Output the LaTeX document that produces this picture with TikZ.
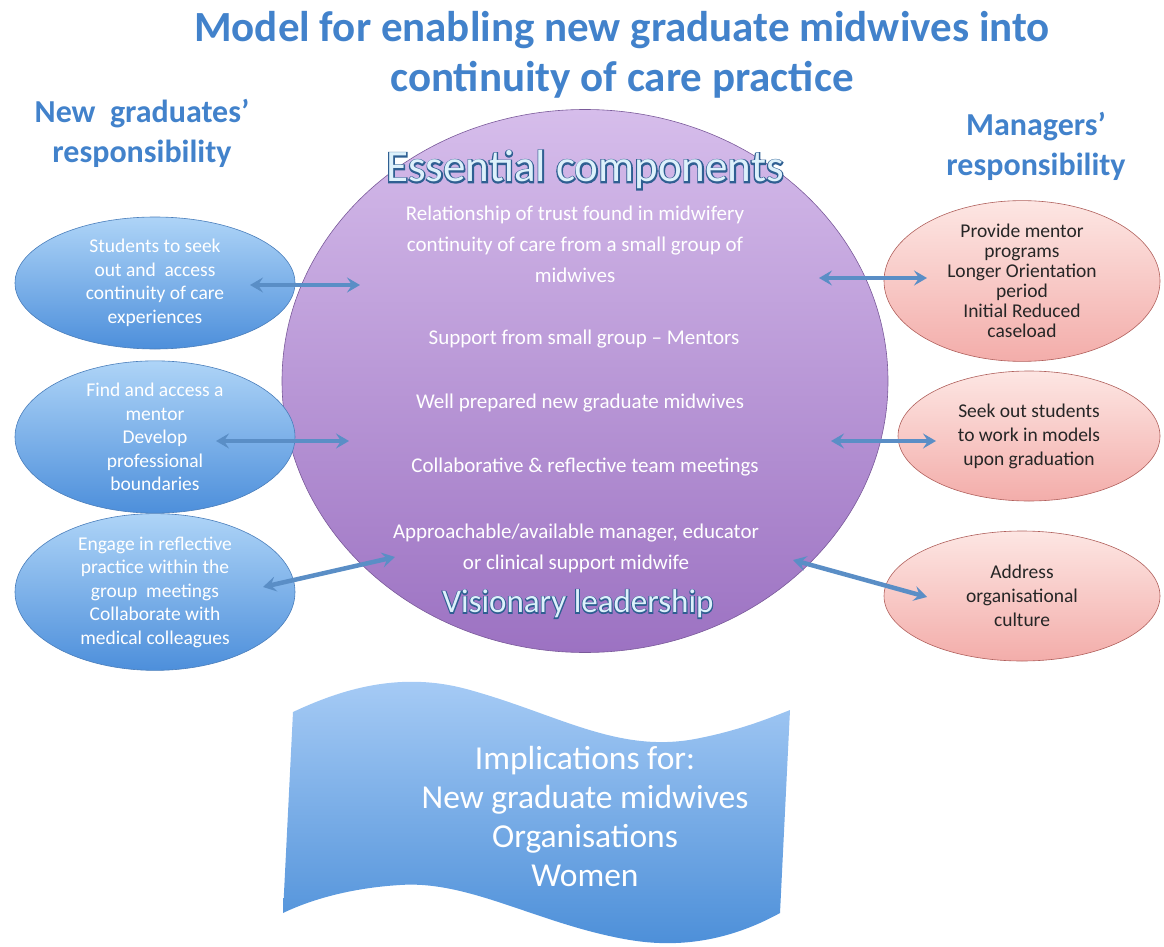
\documentclass[tikz,border=0pt]{standalone}
\usepackage{fontspec}
\setmainfont{Carlito}
\newfontfamily\fakeboldfont[FakeBold=6]{Carlito}
\usetikzlibrary{shapes.geometric,arrows.meta}
\definecolor{titleblue}{HTML}{4282CB}
\definecolor{ecblue}{HTML}{DDF1FB}
\definecolor{ecdark}{HTML}{2F5F92}
\definecolor{circtop}{HTML}{D6BDEB}
\definecolor{circbot}{HTML}{9C72C2}
\definecolor{circline}{HTML}{7A5A9A}
\definecolor{bluetop}{HTML}{AED4F7}
\definecolor{bluebot}{HTML}{4D8FDB}
\definecolor{blueline}{HTML}{4A7EBB}
\definecolor{pinktop}{HTML}{FDE6E3}
\definecolor{pinkbot}{HTML}{F3ADAA}
\definecolor{pinkline}{HTML}{B0605C}
\definecolor{arrowblue}{HTML}{5A8EC6}
\definecolor{bantop}{HTML}{A9CDF6}
\definecolor{banbot}{HTML}{4B8ED8}
\newcommand{\outlined}[1]{\rlap{\fakeboldfont\color{ecdark}#1}\textcolor{ecblue}{#1}}
\tikzset{
  bluell/.style={ellipse, draw=blueline, line width=0.6pt, top color=bluetop, bottom color=bluebot,
    minimum width=280pt, minimum height=132pt, inner sep=0pt, align=center, text=white,
    font=\fontsize{19.5}{23.5}\selectfont},
  pinkell/.style={ellipse, draw=pinkline, line width=0.6pt, top color=pinktop, bottom color=pinkbot,
    minimum width=276pt, minimum height=130pt, inner sep=0pt, align=center, text=black!85,
    font=\fontsize{19.5}{24}\selectfont},
  conn/.style={{Stealth[length=13pt,width=15pt,inset=5pt]}-{Stealth[length=13pt,width=15pt,inset=5pt]}, line width=4.5pt, arrowblue},
  inner/.style={text=white, align=center, font=\fontsize{21}{31}\selectfont},
  heading/.style={text=titleblue, align=center, font=\bfseries\fontsize{32}{40}\selectfont},
}
\begin{document}
\begin{tikzpicture}[x=1pt,y=-1pt]
\useasboundingbox (0,0) rectangle (1164,947);
% title
\node[heading, font=\bfseries\fontsize{43}{50}\selectfont] (title) at (622,55)
  {Model for enabling new graduate midwives into\\continuity of care practice};
\node[heading] (lh) at (142,133) {New\ \ graduates'\\responsibility};
\node[heading] (rh) at (1036,146) {Managers'\\responsibility};
% central ellipse
\node[ellipse, draw=circline, line width=0.6pt, top color=circtop, bottom color=circbot,
  minimum width=606pt, minimum height=543pt, inner sep=0pt] (circ) at (585,381) {};
\node[font=\fontsize{45}{48}\selectfont] (ess) at (585,170) {\outlined{Essential components}};
\node[inner] (c1) at (575,244) {Relationship of trust found in midwifery\\continuity of care from a small group of\\midwives};
\node[inner] (c2) at (584,339) {Support from small group -- Mentors};
\node[inner] (c3) at (580,403) {Well prepared new graduate midwives};
\node[inner] (c4) at (585,467) {Collaborative \& reflective team meetings};
\node[inner] (c5) at (576,548) {Approachable/available manager, educator\\or clinical support midwife};
\node[font=\fontsize{33}{36}\selectfont] (vis) at (578,604) {\outlined{Visionary leadership}};
% left ellipses
\node[bluell] (l1) at (155,283) {Students to seek\\out and\ \ access\\continuity of care\\experiences};
\node[bluell] (l2) at (155,437) {Find and access a\\mentor\\Develop\\professional\\boundaries};
\node[bluell] (l3) at (155,592) {Engage in reflective\\practice within the\\group\ \ meetings\\Collaborate with\\medical colleagues};
% right ellipses
\node[pinkell, font=\fontsize{19.5}{20}\selectfont] (r1) at (1022,281) {Provide mentor\\programs\\Longer Orientation\\period\\Initial Reduced\\caseload};
\node[pinkell, minimum width=262pt] (r2) at (1029,436) {Seek out students\\to work in models\\upon graduation};
\node[pinkell] (r3) at (1022,596) {Address\\organisational\\culture};
% arrow end points
\coordinate (a1l) at (250,285); \coordinate (a1r) at (360,285);
\coordinate (a2l) at (216,441); \coordinate (a2r) at (349,441);
\coordinate (a3l) at (263,587); \coordinate (a3r) at (395,557);
\coordinate (b1l) at (819,278); \coordinate (b1r) at (927,278);
\coordinate (b2l) at (831,441); \coordinate (b2r) at (936,441);
\coordinate (b3l) at (793,560); \coordinate (b3r) at (927,597);
\draw[conn] (a1l) -- (a1r);
\draw[conn] (a2l) -- (a2r);
\draw[conn] (a3l) -- (a3r);
\draw[conn] (b1l) -- (b1r);
\draw[conn] (b2l) -- (b2r);
\draw[conn] (b3l) -- (b3r);
% banner
\path[top color=bantop, bottom color=banbot] (293,712)
  .. controls (340,690) and (400,670) .. (470,690)
  .. controls (560,715) and (620,755) .. (700,738)
  .. controls (740,730) and (770,718) .. (790,710)
  -- (780,913)
  .. controls (740,935) and (690,950) .. (630,940)
  .. controls (540,925) and (470,880) .. (400,885)
  .. controls (350,888) and (310,900) .. (283,913) -- cycle;
\node[text=white, align=center, font=\fontsize{33.5}{39}\selectfont] (ban) at (585,816)
  {Implications for:\\New graduate midwives\\Organisations\\Women};
\end{tikzpicture}
\end{document}
